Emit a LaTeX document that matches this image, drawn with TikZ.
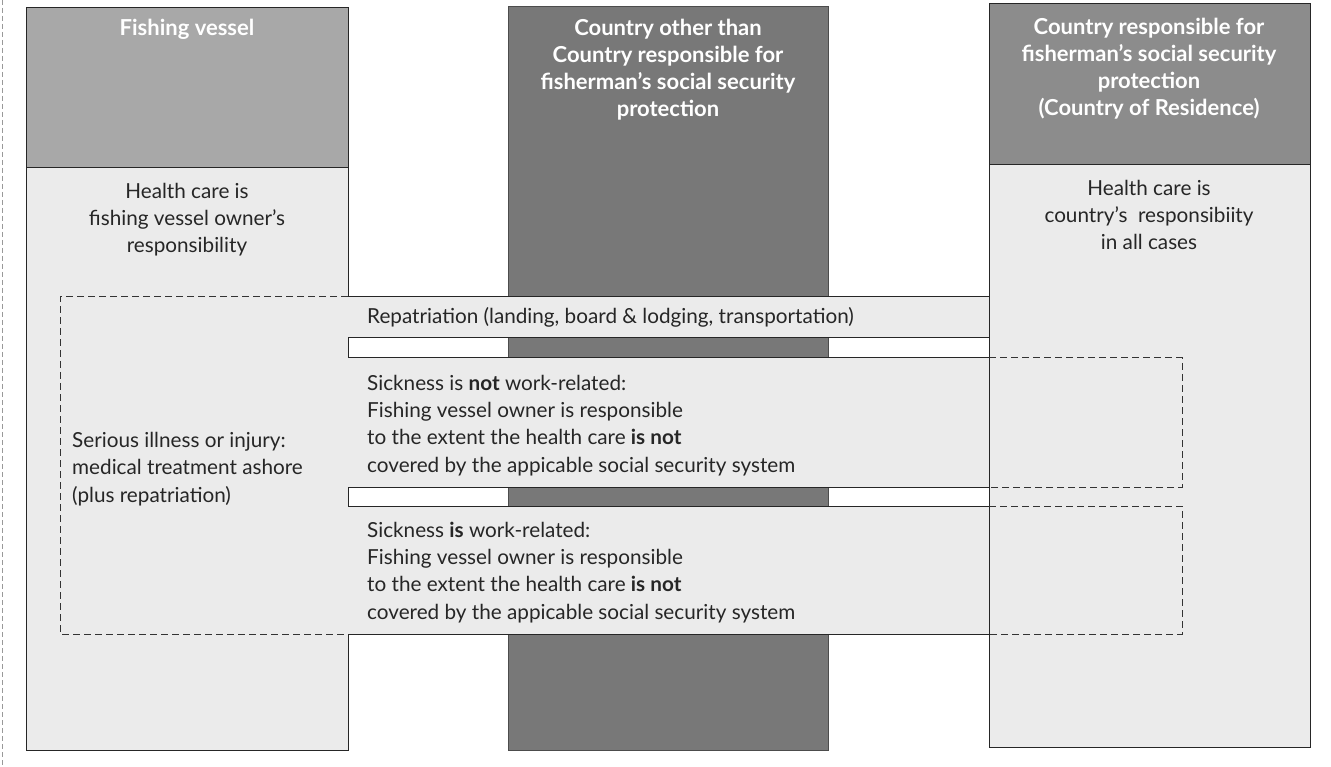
\documentclass[tikz,border=0pt]{standalone}
\usepackage{fontspec}
\setmainfont{Lato}
\begin{document}
\begin{tikzpicture}[x=1pt,y=-1pt,
  txt/.style={text=black!85, font=\fontsize{20.7}{27.3}\selectfont, inner sep=0pt, align=left},
  ctxt/.style={text=black!85, font=\fontsize{20.7}{27}\selectfont, inner sep=0pt, align=center},
  htxt/.style={text=white, font=\bfseries\fontsize{22}{27}\selectfont, inner sep=0pt, align=center},
  edge/.style={draw=black!85, line width=1pt},
  dedge/.style={draw=black!80, line width=1pt, dash pattern=on 7pt off 4pt},
]
\definecolor{hdrA}{gray}{0.66}
\definecolor{hdrB}{gray}{0.47}
\definecolor{hdrC}{gray}{0.55}
\definecolor{bodyL}{gray}{0.92}
% page
\path[fill=white] (0,0) rectangle (1331,767);
\useasboundingbox (0,0) rectangle (1331,767);
\draw[black!40, line width=0.6pt, dash pattern=on 5pt off 3pt] (2,0) -- (2,767);
% fills
\path[fill=hdrA] (26,8) rectangle (348,168);
\path[fill=bodyL] (26,168) rectangle (348,750);
\path[fill=hdrB, draw=black!70, line width=0.6pt] (508,6) rectangle (828,750);
\path[fill=hdrC] (989,4) rectangle (1310,165);
\path[fill=bodyL] (989,165) rectangle (1310,747);
\path[fill=bodyL] (348,297) rectangle (989,338);
\path[fill=bodyL] (348,358) rectangle (1182,487);
\path[fill=bodyL] (348,506) rectangle (1182,634);
% left column lines
\draw[edge] (348,297) -- (348,8) -- (26,8) -- (26,750) -- (348,750) -- (348,634);
\draw[edge] (26,168) -- (348,168);
\draw[edge] (348,338) -- (348,358);
\draw[edge] (348,487) -- (348,506);
% right column
\draw[edge] (989,4) rectangle (1310,747);
\draw[edge] (989,165) -- (1310,165);
% bands
\draw[edge] (348,297) -- (989,297);
\draw[edge] (348,338) -- (989,338);
\draw[edge] (348,358) -- (989,358);
\draw[edge] (348,487) -- (989,487);
\draw[edge] (348,506) -- (989,506);
\draw[edge] (348,634) -- (989,634);
\draw[dedge] (989,358) -- (1182,358) -- (1182,487) -- (989,487);
\draw[dedge] (989,506) -- (1182,506) -- (1182,634) -- (989,634);
\draw[dedge] (348,297) -- (60,297) -- (60,634) -- (348,634);
% header texts (anchor base = baseline of last line)
\node[htxt, anchor=base] (h1) at (187,36) {Fishing vessel};
\node[htxt, anchor=base] (h2) at (668,117) {Country other than\\Country responsible for\\fisherman's social security\\protection};
\node[htxt, anchor=base] (h3) at (1149,116) {Country responsible for\\fisherman's social security\\protection\\(Country of Residence)};
% body texts
\node[ctxt, anchor=base] (b1) at (187,253) {Health care is\\fishing vessel owner's\\responsibility};
\node[ctxt, anchor=base] (b3) at (1149,250) {Health care is\\country's\ \ responsibiity\\in all cases};
\node[txt, anchor=base west] (ser) at (72,502) {Serious illness or injury:\\medical treatment ashore\\(plus repatriation)};
\node[txt, anchor=base west] (rep) at (367,324) {Repatriation (landing, board \& lodging, transportation)};
\node[txt, anchor=base west] (s1) at (367,472) {Sickness is \textbf{not} work-related:\\Fishing vessel owner is responsible\\to the extent the health care \textbf{is not}\\covered by the appicable social security system};
\node[txt, anchor=base west] (s2) at (367,619) {Sickness \textbf{is} work-related:\\Fishing vessel owner is responsible\\to the extent the health care \textbf{is not}\\covered by the appicable social security system};
\end{tikzpicture}
\end{document}
